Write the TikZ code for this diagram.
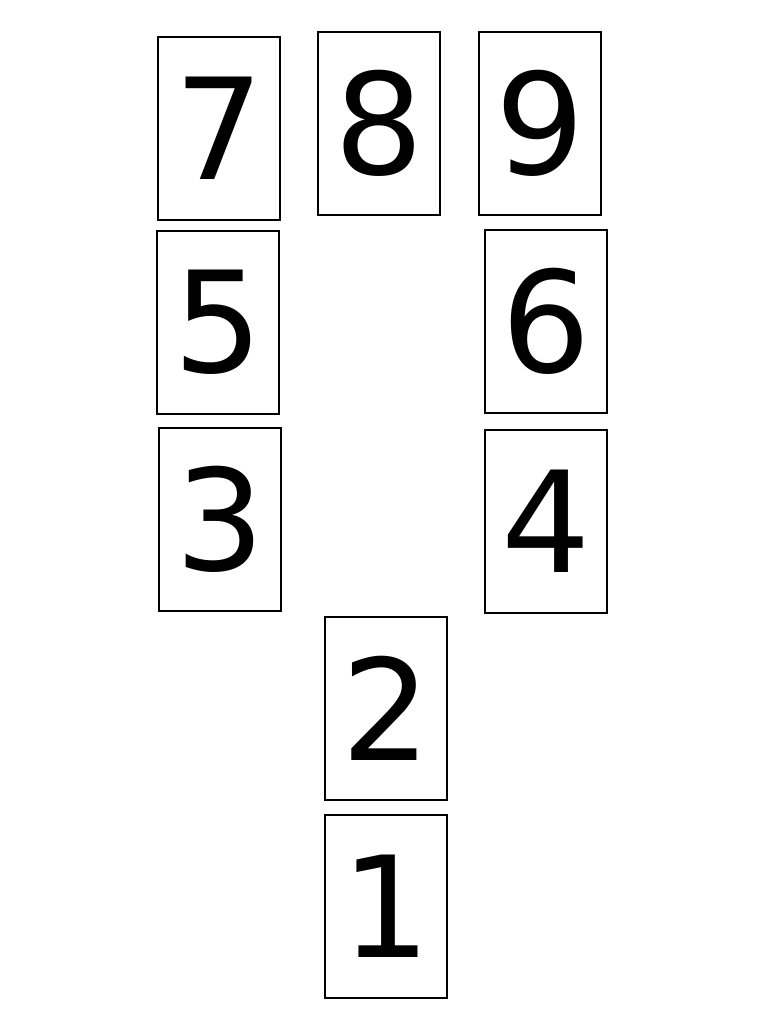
\documentclass[tikz,border=0pt]{standalone}
\usepackage{fontspec}
\setmainfont{DejaVu Sans}
\usepackage{tikz}

\begin{document}
\begin{tikzpicture}
       \tikzstyle{every node}=[font=\fontsize{100}{100}\selectfont]
       \tikzstyle{card}=[draw, line width=1.4pt, minimum width=3.05cm, minimum height=4.575cm, inner sep=0pt]
        \useasboundingbox (0, 0) rectangle (19.2, -25.6);
        % top row
        \node[card] (card7) at (5.475, -3.2125) {7};
        \node[card] (card8) at (9.475, -3.0875) {8};
        \node[card] (card9) at (13.5, -3.0875) {9};
        % sides
        \node[card] (card5) at (5.45, -8.0625) {5};
        \node[card] (card6) at (13.65, -8.0375) {6};
        \node[card] (card3) at (5.5, -12.9875) {3};
        \node[card] (card4) at (13.65, -13.0375) {4};
        % bottom
        \node[card] (card2) at (9.65, -17.7125) {2};
        \node[card] (card1) at (9.65, -22.6625) {1};
      \end{tikzpicture}
\end{document}
